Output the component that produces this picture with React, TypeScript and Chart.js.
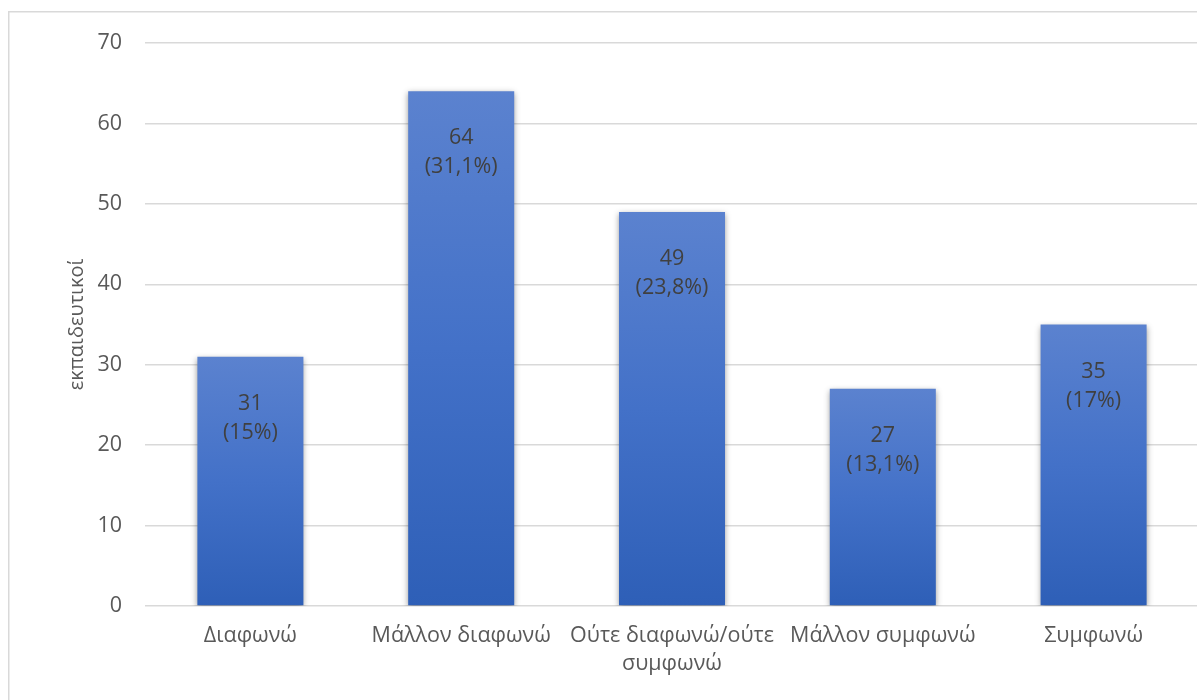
import React, { useEffect, useRef } from "react";
import { Chart, registerables } from "chart.js";

Chart.register(...registerables);

const categories: (string | string[])[] = [
  "Διαφωνώ",
  "Μάλλον διαφωνώ",
  ["Ούτε διαφωνώ/ούτε", "συμφωνώ"],
  "Μάλλον συμφωνώ",
  "Συμφωνώ",
];
const counts = [31, 64, 49, 27, 35];
const percents = ["15%", "31,1%", "23,8%", "13,1%", "17%"];
const yTicks = [0, 10, 20, 30, 40, 50, 60, 70];
const yTitle = "εκπαιδευτικοί";

const FONT = "'Open Sans', 'Noto Sans', sans-serif";

const frame = {
  id: "frame",
  beforeDraw(chart: any) {
    const ctx = chart.ctx;
    ctx.save();
    ctx.fillStyle = "#ffffff";
    ctx.fillRect(0, 0, chart.width, chart.height);
    ctx.strokeStyle = "#d9d9d9";
    ctx.lineWidth = 1.5;
    ctx.strokeRect(8.75, 11.75, chart.width + 20, chart.height + 20);
    ctx.restore();
  },
};

const shadow = {
  id: "barShadow",
  beforeDatasetDraw(chart: any) {
    const ctx = chart.ctx;
    ctx.save();
    ctx.shadowColor = "rgba(0,0,0,0.4)";
    ctx.shadowBlur = 6;
    ctx.shadowOffsetX = 0;
    ctx.shadowOffsetY = 2;
  },
  afterDatasetDraw(chart: any) {
    chart.ctx.restore();
  },
};

const labels = {
  id: "barLabels",
  afterDatasetsDraw(chart: any) {
    const ctx = chart.ctx;
    const meta = chart.getDatasetMeta(0);
    ctx.save();
    ctx.fillStyle = "#404040";
    ctx.font = `21.5px ${FONT}`;
    ctx.textAlign = "center";
    ctx.textBaseline = "middle";
    meta.data.forEach((bar: any, i: number) => {
      ctx.fillText(String(counts[i]), bar.x, bar.y + 47);
      ctx.fillText(`(${percents[i]})`, bar.x, bar.y + 76);
    });
    ctx.restore();
  },
};

export default function App() {
  const ref = useRef<HTMLCanvasElement | null>(null);

  useEffect(() => {
    document.body.style.overflow = "hidden";
    const canvas = ref.current;
    if (!canvas) return;
    const chart = new Chart(canvas, {
      type: "bar",
      data: {
        labels: categories,
        datasets: [
          {
            data: counts,
            backgroundColor: (c: any) => {
              const ch = c.chart;
              const y = ch.scales?.y;
              if (!ch.chartArea || !y || c.dataIndex === undefined) return "#4472c4";
              const top = y.getPixelForValue(counts[c.dataIndex]);
              const bottom = y.getPixelForValue(0);
              const g = ch.ctx.createLinearGradient(0, top, 0, bottom);
              g.addColorStop(0, "#5b82cf");
              g.addColorStop(0.5, "#4371c8");
              g.addColorStop(1, "#2e5fb7");
              return g;
            },
            borderWidth: 0,
            categoryPercentage: 1,
            barPercentage: 0.503,
          },
        ],
      },
      options: {
        animation: false,
        responsive: true,
        maintainAspectRatio: false,
        layout: { padding: { top: 43, right: 6, bottom: 0, left: 0 } },
        plugins: {
          legend: { display: false },
          tooltip: { enabled: false },
        },
        scales: {
          x: {
            grid: { display: false, drawTicks: false },
            border: { display: false },
            ticks: {
              color: "#595959",
              font: { family: FONT, size: 21.5, lineHeight: 1.3 },
              padding: 16,
              maxRotation: 0,
              autoSkip: false,
            },
            afterFit: (s: any) => {
              s.height = 94;
            },
          },
          y: {
            min: 0,
            max: 70,
            afterBuildTicks: (s: any) => {
              s.ticks = yTicks.map((v) => ({ value: v }));
            },
            grid: { color: "#d9d9d9", lineWidth: 1.5, drawTicks: false },
            border: { display: false },
            ticks: {
              color: "#595959",
              font: { family: FONT, size: 21.5 },
              padding: 23,
            },
            title: {
              display: true,
              text: yTitle,
              color: "#595959",
              font: { family: FONT, size: 20 },
              padding: { top: 65, bottom: 0 },
            },
            afterFit: (s: any) => {
              s.width = 145;
            },
          },
        },
      },
      plugins: [frame, shadow, labels],
    });
    return () => chart.destroy();
  }, []);

  return (
    <div style={{ position: "absolute", left: 0, top: 0, width: 1205, height: 700 }}>
      <canvas ref={ref} />
    </div>
  );
}
